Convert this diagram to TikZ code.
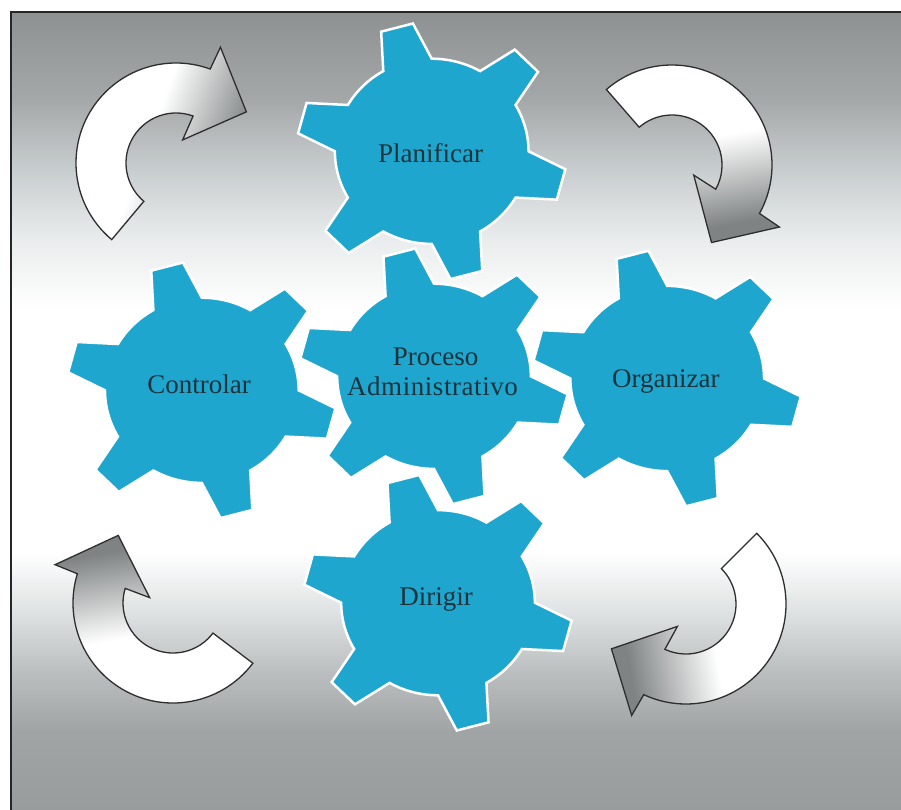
\documentclass[tikz,border=0pt]{standalone}
\usepackage{fontspec}
\setmainfont{Liberation Serif}
\newfontfamily\widefont[LetterSpace=2.1]{Liberation Serif}
\definecolor{gearblue}{HTML}{1FA6CE}
\definecolor{gearink}{HTML}{1B333C}
\definecolor{arrowink}{HTML}{2E2E2E}
\definecolor{headgrey}{HTML}{7F8384}
\definecolor{backa}{HTML}{8E9191}
\definecolor{backb}{HTML}{A5A8A9}
\definecolor{backc}{HTML}{C8CDCF}
\definecolor{backd}{HTML}{EAEDED}
\definecolor{backe}{HTML}{DFE2E3}
\definecolor{backf}{HTML}{BABEBF}
\definecolor{backg}{HTML}{A1A4A5}
\definecolor{backh}{HTML}{999C9D}
\pgfdeclareverticalshading{backshade}{100bp}{color(0bp)=(backh); color(25bp)=(backh); color(29.9bp)=(backg); color(33.6bp)=(backf); color(37.4bp)=(backe); color(41.2bp)=(white); color(56.3bp)=(white); color(60.7bp)=(backd); color(65.1bp)=(backc); color(69.5bp)=(backb); color(75bp)=(backa); color(100bp)=(backa)}
\pgfdeclarehorizontalshading{arrowshade}{100bp}{color(0bp)=(white); color(48bp)=(white); color(72bp)=(headgrey); color(100bp)=(headgrey)}
\tikzset{
    gearbox/.style={fill=gearblue, draw=white, line width=2.5pt, line join=miter, xscale=1.03, yscale=.985},
    gearlabel/.style={text=gearink, font=\fontsize{27}{30}\selectfont},
    arrowbox/.style={shading=arrowshade, draw=arrowink, line width=1.3pt, line join=miter},
    gearshape/.pic={
        \draw[gearbox] (120:94) \foreach \a in {105,45,-15,-75,-135,-195} {
            -- (\a+7:131) -- (\a-7:131) -- (\a-15:94)
            arc[start angle=\a-15, end angle=\a-45, radius=94]} -- cycle;
    },
    arrowshape/.pic={
        \shadedraw[arrowbox, shading angle=#1] (230:100)
            arc[start angle=230, end angle=70, radius=100]
            -- (69:124) -- (36:87) -- (74:24) -- (70:50)
            arc[start angle=70, end angle=230, radius=50] -- cycle;
    }
}
\begin{document}
\begin{tikzpicture}[x=1pt, y=1pt]
    \useasboundingbox (0,-810) rectangle (901,0);
    \shade[shading=backshade] (11,-810) rectangle (901,-12);
    \draw[black!85, line width=1.4pt] (11,-810) -- (11,-12) -- (901,-12);
    \pic at (176,-163) {arrowshape=-20};
    \pic[rotate=-99] at (672,-165) {arrowshape=-80};
    \pic[rotate=175] at (686,-604) {arrowshape=190};
    \pic[rotate=93] at (173,-603) {arrowshape=100};
    \pic at (431.7,-151.3) {gearshape};
    \pic at (434,-376.3) {gearshape};
    \pic at (201.8,-390.3) {gearshape};
    \pic at (667.2,-378.5) {gearshape};
    \pic at (438,-602.7) {gearshape};
    \node[gearlabel, anchor=base] (planificar) at (430.5,-162.7) {Planificar};
    \node[gearlabel, anchor=base] (proceso) at (435.7,-365) {Proceso};
    \node[gearlabel, anchor=base] (administrativo) at (432.5,-395) {\widefont Administrativo};
    \node[gearlabel, anchor=base] (controlar) at (199.2,-393.3) {Controlar};
    \node[gearlabel, anchor=base] (organizar) at (665.8,-387.7) {Organizar};
    \node[gearlabel, anchor=base] (dirigir) at (436.2,-605) {Dirigir};
\end{tikzpicture}
\end{document}
